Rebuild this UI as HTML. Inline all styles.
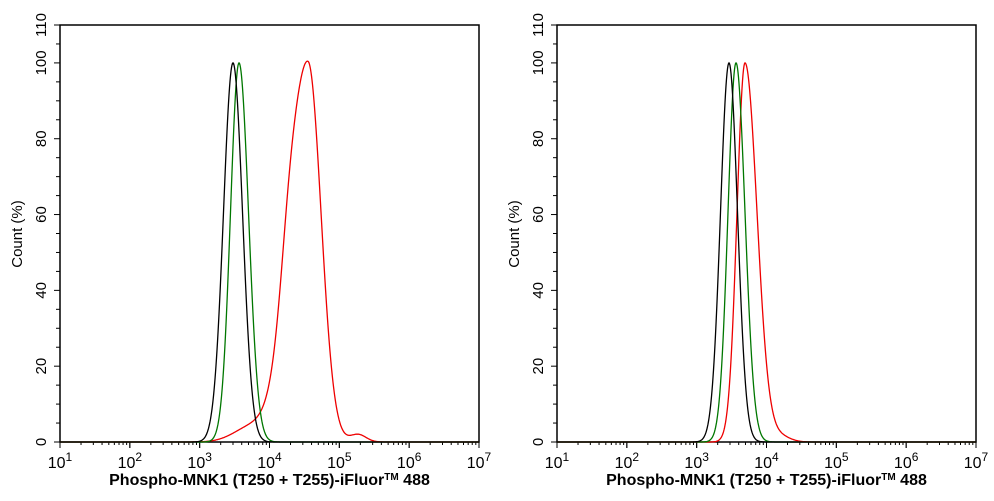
<!DOCTYPE html>
<html><head><meta charset="utf-8"><style>
body{margin:0;background:#fff;}
svg{display:block;font-family:"Liberation Sans",Arial,sans-serif;}
</style></head><body>
<svg id="s" width="994" height="501" xmlns="http://www.w3.org/2000/svg"></svg>
<script>
const s=document.getElementById('s');let h='';
function panel(x0,x1,curves){
 const y0=442,yt=25,dec=(x1-x0)/6,py=v=>y0-(v/110)*(y0-yt);
 h+=`<rect x="${x0}" y="${yt}" width="${x1-x0}" height="${y0-yt}" fill="none" stroke="#000" stroke-width="1.5"/>`;
 for(let v=0;v<=110;v+=5){const L=v%20==0||v==110?6:4;h+=`<line x1="${x0-L}" x2="${x0}" y1="${py(v)}" y2="${py(v)}" stroke="#000"/>`;}
 for(let v=0;v<=100;v+=20)lab(v);lab(110);function lab(v){h+=`<text transform="translate(${x0-14},${py(v)}) rotate(-90)" text-anchor="middle" font-size="15">${v}</text>`;}
 for(let d=0;d<6;d++)for(let m=1;m<=10;m++){const x=x0+(d+Math.log10(m))*dec;h+=`<line x1="${x}" x2="${x}" y1="${y0}" y2="${y0+(m==1||m==10?6:3)}" stroke="#000"/>`;}
 for(let d=0;d<=6;d++){const x=x0+d*dec;h+=`<text x="${x}" y="${y0+26}" text-anchor="middle" font-size="16">10<tspan dy="-7" font-size="12">${d+1}</tspan></text>`;}
 h+=`<text x="${(x0+x1)/2}" y="485" text-anchor="middle" font-size="16" font-weight="bold">Phospho-MNK1 (T250 + T255)-iFluor<tspan font-size="10" dy="-5">TM</tspan><tspan dy="5"> 488</tspan></text>`;
 h+=`<text transform="translate(${x0-38},234) rotate(-90)" text-anchor="middle" font-size="15">Count  (%)</text>`;
 for(const c of curves){let p='';for(let x=x0;x<=x1;x+=0.5){p+=(p?'L':'M')+x+','+py(c.f(x)).toFixed(1);}h+=`<path d="${p}" fill="none" stroke="${c.c}" stroke-width="1.3"/>`;}
}
const g=(x,m,sl,sr)=>{const s=x<m?sl:sr;return Math.exp(-0.5*((x-m)/s)**2)};
panel(60,479,[
 {c:'#e00',f:x=>100*g(x,308,19,13)+9*g(x,288,8,8)+2*g(x,358,8,8)+4*g(x,252,18,18)},
 {c:'#070',f:x=>100*g(x,239,8.5,9.5)},
 {c:'#000',f:x=>100*g(x,233,9.5,9.5)}]);
panel(557,976,[
 {c:'#e00',f:x=>100*g(x,745,8,12)+1.5*g(x,780,10,10)},
 {c:'#070',f:x=>100*g(x,736,8,9)},
 {c:'#000',f:x=>100*g(x,729,8.5,8.5)}]);
s.innerHTML=h;
</script>
</body></html>
